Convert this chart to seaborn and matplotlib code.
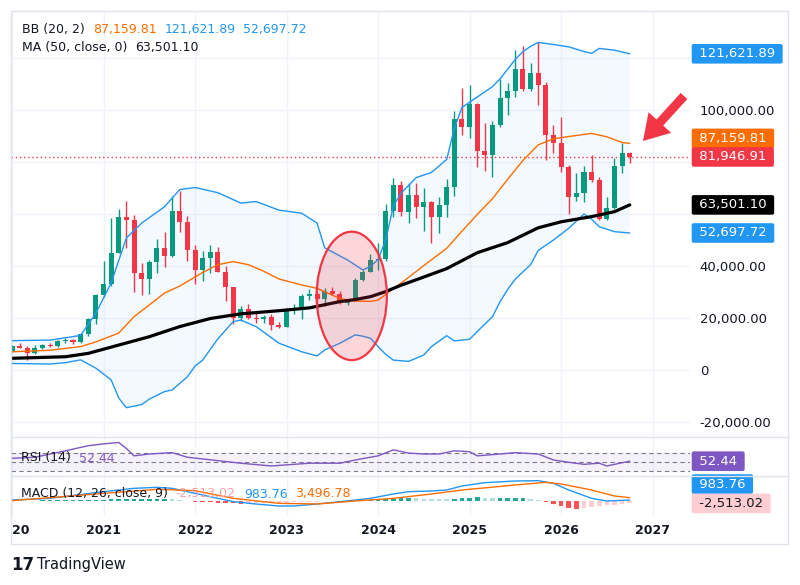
import numpy as np
import pandas as pd
import seaborn as sns
import matplotlib.pyplot as plt
from matplotlib.patches import Ellipse, Rectangle
from matplotlib.lines import Line2D
from matplotlib.transforms import blended_transform_factory

# monthly candles, index 0 = Jan 2020
opens = [7200, 9350, 8600, 6430, 8630, 9450, 9140, 11340, 11650, 10780, 13800, 19700,
         28990, 33100, 45140, 58800, 57750, 37300, 35040, 41460, 47100, 43790, 61300, 56950,
         46200, 38470, 43160, 45510, 37630, 31790, 19940, 23300, 20050, 19430, 20490, 17170,
         16540, 23130, 23150, 28480, 29250, 27220, 30470, 29230, 25940, 26960, 34640, 37720,
         42280, 42580, 61130, 71330, 60640, 67490, 62670, 64630, 58970, 63330, 70200, 96400,
         93430, 102400, 84350, 82550, 94200, 104600, 107150, 115760, 108250, 114050, 109600, 90400,
         87200, 78200, 66700, 67900, 76000, 73100, 58100, 62400, 78500, 83300]
highs = [9580, 10500, 9190, 9460, 10070, 10380, 11450, 12470, 12090, 14100, 19900, 29300,
         41950, 58350, 61780, 64850, 59500, 41300, 42300, 50500, 52900, 67000, 69000, 59100,
         47990, 45800, 48200, 47450, 40000, 31980, 24670, 25200, 22800, 20990, 21450, 18400,
         23950, 25250, 29200, 31000, 29850, 31400, 31800, 30200, 27500, 35200, 38450, 44700,
         48970, 64000, 73800, 72800, 71950, 71980, 70000, 65100, 66500, 73600, 99600, 108300,
         109600, 102750, 95000, 95700, 111900, 110500, 123200, 124450, 117900, 126200, 110600, 94200,
         97400, 78800, 75600, 78500, 82700, 74400, 66700, 81400, 87200, 83800]
lows = [6850, 8450, 3850, 6150, 8100, 8900, 8990, 10520, 9850, 10380, 13200, 17600,
        28130, 32300, 45000, 47000, 30000, 28800, 29300, 37300, 39600, 43300, 53250, 42000,
        32900, 34300, 37200, 37700, 26700, 17600, 18800, 19550, 18150, 18200, 15500, 16300,
        16500, 21350, 19550, 26950, 25800, 24800, 28850, 25200, 24900, 26550, 34100, 37600,
        38550, 41880, 59000, 59200, 56550, 58400, 53500, 49000, 52550, 58900, 66800, 90500,
        89200, 78200, 76600, 74400, 93400, 98200, 105100, 107300, 107300, 102000, 80600, 83600,
        76300, 60000, 65000, 64600, 72500, 57700, 57700, 62000, 75700, 79700]
closes = [9350, 8600, 6430, 8630, 9450, 9140, 11340, 11650, 10780, 13800, 19700, 28990,
          33100, 45140, 58800, 57750, 37300, 35040, 41460, 47100, 43790, 61300, 56950, 46200,
          38470, 43160, 45510, 37630, 31790, 19940, 23300, 20050, 19430, 20490, 17170, 16540,
          23130, 23150, 28480, 29250, 27220, 30470, 29230, 25940, 26960, 34640, 37720, 42280,
          42580, 61130, 71330, 60640, 67490, 62670, 64630, 58970, 63330, 70200, 96400, 93430,
          102400, 84350, 82550, 94200, 104600, 107150, 115760, 108250, 114050, 109600, 90400, 87200,
          78200, 66700, 67900, 76000, 73100, 58100, 62400, 78500, 83300, 81946.91]

# Bollinger bands (20, 2) and MA 50, read at these month indexes
bb_up_idx = [0, 5, 9, 11, 13, 15, 17, 20, 22, 24, 27, 30, 32, 35, 38, 40, 41, 44, 46, 47, 48, 49,
             50, 51, 53, 55, 57, 58, 59, 61, 63, 64, 66, 67, 68, 69, 71, 73, 75, 76, 77, 79, 81]
bb_upper = [11300, 11500, 13300, 21900, 33500, 50800, 56500, 62800, 69400, 70200, 68200, 64200,
            64800, 61500, 60300, 56500, 47000, 42300, 38500, 39800, 42500, 50000, 63000, 68000,
            74000, 76000, 81000, 93000, 101000, 105000, 109000, 112000, 119500, 122500, 124500,
            126000, 125200, 124300, 122500, 121800, 123700, 123000, 121621.89]
bb_mid_idx = [0, 5, 9, 11, 14, 16, 18, 20, 22, 25, 27, 29, 31, 33, 35, 38, 40, 43, 45, 47, 48, 49,
              50, 51, 53, 55, 57, 59, 61, 63, 65, 67, 69, 71, 73, 76, 78, 80, 81]
bb_mid = [7000, 7600, 9000, 10800, 14200, 20500, 25000, 29600, 32300, 37500, 40500, 41700, 40500,
          38000, 35000, 32700, 31400, 27500, 26500, 26400, 26900, 29000, 31400, 33400, 37900, 42400,
          46800, 53400, 59800, 65900, 73400, 80600, 86600, 88900, 89800, 91000, 89700, 87500, 87159.81]
bb_low_idx = [0, 5, 7, 9, 11, 13, 14, 15, 17, 18, 20, 21, 23, 24, 25, 27, 29, 30, 32, 35, 38, 40,
              41, 43, 45, 46, 47, 48, 49, 50, 52, 54, 55, 57, 58, 60, 61, 63, 64, 65, 66, 68, 69,
              71, 73, 75, 76, 77, 79, 81]
bb_lower = [2500, 2300, 2800, 3900, 700, -3800, -10800, -14500, -13300, -11200, -8300, -7700,
            -2600, 1500, 3800, 12000, 18600, 19200, 16700, 10300, 7000, 5400, 7700, 10300, 13500,
            13000, 12200, 9000, 6000, 3800, 3300, 5800, 9000, 13200, 11200, 11800, 14800, 20500,
            26300, 31000, 35000, 40500, 46000, 50000, 54500, 60000, 58000, 55100, 53200, 52697.72]
ma_idx = [0, 7, 10, 14, 18, 22, 26, 30, 35, 39, 43, 45, 47, 49, 51, 53, 57, 61, 65, 69, 72, 76,
          79, 81]
ma50 = [4500, 5100, 6400, 9600, 12800, 16700, 19800, 21600, 22800, 23900, 26300, 27100, 28200,
        30150, 32600, 34700, 39000, 45100, 49000, 54700, 57000, 59000, 60900, 63501.10]

# RSI (14)
rsi_idx = [0, 3, 7, 10, 12, 14, 15, 16, 18, 21, 23, 27, 30, 34, 39, 43, 45, 48, 50, 52, 54, 56,
           58, 60, 61, 64, 66, 69, 71, 73, 75, 77, 78, 79, 81]
rsi = [58.7, 61, 75, 86, 90, 93, 80, 64, 68, 71, 61, 53.6, 48, 42, 48, 48, 55, 64, 77, 70, 68, 68,
       75, 73, 64, 68, 71, 68, 55, 50, 45.6, 48, 42, 45.6, 52.44]

# MACD (12, 26, close, 9)
macd_idx = [0, 5, 12, 16, 19, 21, 24, 27, 29, 32, 35, 37, 40, 43, 45, 47, 50, 52, 55, 57, 59, 62,
            66, 69, 71, 73, 76, 78, 81]
macd = [1050, 2800, 9800, 13300, 14350, 13300, 8000, 2800, -700, -3150, -5250, -5250, -3150, -700,
        1050, 2800, 7350, 9800, 10500, 11550, 15750, 19250, 21000, 21350, 18550, 11550, 2800, 0,
        983.76]
sig_idx = [0, 12, 19, 24, 29, 35, 40, 45, 50, 55, 59, 66, 70, 72, 76, 79, 81]
signal = [350, 8000, 12250, 10850, 2800, -2450, -3150, 0, 2800, 7350, 11550, 16800, 19600, 17850,
          11550, 5250, 3496.78]
hist = [200, 300, 400, 500, 600, 700, 800, 900, 1000, 1100, 1200, 1300, 1450, 1600, 1750, 1900,
        2000, 2100, 2200, 2300, 2400, 1700, 800, -300, -700, -1100, -1500, -1900, -2300, -2600,
        -2800, -2600, -2400, -2200, -2000, -1800, -1600, -1400, -1100, -900, -700, -500, -300,
        -100, 200, 500, 800, 1200, 1600, 2000, 2400, 2800, 3100, 2800, 2500, 2200, 1900, 1700,
        2300, 2900, 3400, 3800, 3300, 2700, 2900, 3100, 3300, 3500, 2500, 1200, -1500, -3500,
        -5500, -7200, -8500, -7500, -6400, -5400, -4500, -3700, -3000, -2513.02]

years = [2020, 2021, 2022, 2023, 2024, 2025, 2026, 2027]

UP = '#089981'
DOWN = '#F23645'
BLUE = '#2196F3'
ORANGE = '#FF6D00'
PURPLE = '#7E57C2'
TEXT = '#131722'
GRID = '#F0F3FA'
FRAME = '#E0E3EB'
W, H = 800, 585


def rect(x0, y0, x1, y1):
    return [x0 / W, 1 - y1 / H, (x1 - x0) / W, (y1 - y0) / H]


def tag(ax, y, text, fc, tc='white', dy=0):
    tr = blended_transform_factory(ax.transAxes, ax.transData)
    ax.annotate(' ' + text + ' ', xy=(1, y), xycoords=tr, xytext=(5, dy), textcoords='offset pixels',
                ha='left', va='center', fontsize=9.5, color=tc, annotation_clip=False, zorder=10,
                bbox=dict(boxstyle='round,pad=0.25,rounding_size=0.15', fc=fc, ec='none'))


def text_row(fig, x, y, parts, size=9):
    r = fig.canvas.get_renderer()
    for s, col in parts:
        t = fig.text(x / W, 1 - y / H, s, color=col, fontsize=size, va='center', ha='left', zorder=10)
        x += t.get_window_extent(r).width + 8


def main():
    sns.set_theme(style='white')
    plt.rcParams['font.family'] = ['DejaVu Sans']

    df = pd.DataFrame({'open': opens, 'high': highs, 'low': lows, 'close': closes})
    months = np.arange(len(df))
    year_pos = [12 * i for i in range(len(years))]

    fig = plt.figure(figsize=(W / 100, H / 100), dpi=100)
    ax = fig.add_axes(rect(11, 11, 690, 437))
    ax_rsi = fig.add_axes(rect(11, 437, 690, 476), sharex=ax)
    ax_macd = fig.add_axes(rect(11, 476, 690, 516), sharex=ax)
    ax_date = fig.add_axes(rect(11, 516, 690, 544), sharex=ax)

    for a in (ax, ax_rsi, ax_macd, ax_date):
        for s in a.spines.values():
            s.set_visible(False)
        a.set_facecolor('none')
        a.set_xticks(year_pos)
        a.tick_params(length=0, labelbottom=False)
        a.grid(True, axis='x', color=GRID, lw=1)
    ax.set_xlim(-0.13, 88.9)

    # --- main pane ---
    ax.set_ylim(-25770, 138080)
    yt = list(range(-20000, 140000, 20000))
    ax.set_yticks(yt)
    labels = []
    for v in yt:
        if v == 0:
            labels.append('0')
        elif v in (60000, 80000, 120000):
            labels.append('')  # hidden behind the value tags
        else:
            labels.append('{:,.2f}'.format(v))
    ax.yaxis.tick_right()
    ax.set_yticklabels(labels)
    ax.tick_params(axis='y', length=0, pad=7, labelsize=9.5, labelcolor=TEXT)
    ax.grid(True, axis='y', color=GRID, lw=1)

    ax.fill(np.r_[bb_up_idx, bb_low_idx[::-1]], np.r_[bb_upper, bb_lower[::-1]],
            color=BLUE, alpha=0.05, lw=0, zorder=1)

    cols = np.where(df['close'] >= df['open'], UP, DOWN)
    ax.vlines(months, df['low'], df['high'], colors=cols, lw=1, zorder=3)
    body = np.maximum((df['close'] - df['open']).abs(), 350)
    ax.bar(months, body, bottom=np.minimum(df['open'], df['close']), width=0.66,
           color=cols, lw=0, zorder=4)

    ax.axhline(closes[-1], color=DOWN, ls=(0, (1, 2)), lw=1, zorder=2)

    sns.lineplot(x=bb_up_idx, y=bb_upper, ax=ax, color=BLUE, lw=1, zorder=5)
    sns.lineplot(x=bb_low_idx, y=bb_lower, ax=ax, color=BLUE, lw=1, zorder=5)
    sns.lineplot(x=bb_mid_idx, y=bb_mid, ax=ax, color=ORANGE, lw=1, zorder=5)
    sns.lineplot(x=ma_idx, y=ma50, ax=ax, color='black', lw=2.3, zorder=5)

    ax.add_patch(Ellipse((44.55, 28500), 9.2, 49400, fc=(0.95, 0.21, 0.27, 0.2),
                         ec=DOWN, lw=1.6, zorder=6))

    ax.annotate('', xy=(643, H - 141), xycoords='figure pixels',
                xytext=(684, H - 96), textcoords='figure pixels',
                arrowprops=dict(arrowstyle='simple,head_length=1.8,head_width=2.2,tail_width=0.65',
                                mutation_scale=10, color=DOWN, lw=0, shrinkA=0, shrinkB=0))

    tag(ax, bb_upper[-1], '{:,.2f}'.format(bb_upper[-1]), BLUE)
    tag(ax, bb_mid[-1], '{:,.2f}'.format(bb_mid[-1]), ORANGE, dy=5)
    tag(ax, closes[-1], '{:,.2f}'.format(closes[-1]), DOWN)
    tag(ax, ma50[-1], '{:,.2f}'.format(ma50[-1]), 'black')
    tag(ax, bb_lower[-1], '{:,.2f}'.format(bb_lower[-1]), BLUE)

    # --- RSI pane ---
    ax_rsi.set_ylim(20.2, 105)
    ax_rsi.set_yticks([])
    ax_rsi.axhspan(30, 70, color=PURPLE, alpha=0.08, lw=0)
    for lv in (70, 50, 30):
        ax_rsi.axhline(lv, color='#787B86', ls=(0, (4, 3)), lw=0.8)
    sns.lineplot(x=rsi_idx, y=rsi, ax=ax_rsi, color=PURPLE, lw=1)
    tag(ax_rsi, rsi[-1], '{:.2f}'.format(rsi[-1]), PURPLE)

    # --- MACD pane ---
    ax_macd.set_ylim(-15750, 26250)
    ax_macd.set_yticks([])
    hist_cols = []
    prev = 0
    for v in hist:
        if v >= 0:
            hist_cols.append('#26A69A' if v > prev else '#B2DFDB')
        else:
            hist_cols.append('#FF5252' if v < prev else '#FFCDD2')
        prev = v
    ax_macd.bar(months, hist, width=0.6, color=hist_cols, lw=0)
    sns.lineplot(x=macd_idx, y=macd, ax=ax_macd, color=BLUE, lw=1)
    sns.lineplot(x=sig_idx, y=signal, ax=ax_macd, color=ORANGE, lw=1)
    tag(ax_macd, macd[-1], '{:,.2f}'.format(macd[-1]), BLUE, dy=16)
    tag(ax_macd, hist[-1], '{:,.2f}'.format(hist[-1]), '#FFCDD2', tc=TEXT)

    # --- date axis ---
    ax_date.set_ylim(0, 1)
    ax_date.set_yticks([])
    ax_date.grid(False)
    # first year label is cut by the pane edge, only its last two digits show
    ax_date.text(year_pos[0], 0.5, str(years[0])[2:], ha='left', va='center', fontsize=9,
                 fontweight='bold', color=TEXT)
    for xp, yr in zip(year_pos[1:], years[1:]):
        ax_date.text(xp, 0.5, str(yr), ha='center', va='center', fontsize=9,
                     fontweight='bold', color=TEXT)

    # frame and pane separators
    fig.add_artist(Rectangle((11 / W, 1 - 544 / H), 777 / W, 533 / H, transform=fig.transFigure,
                             fill=False, ec=FRAME, lw=1))
    for yy in (437, 476):
        fig.add_artist(Line2D([11 / W, 788 / W], [1 - yy / H] * 2, transform=fig.transFigure,
                              color=FRAME, lw=1))

    # legends
    text_row(fig, 22, 29, [('BB (20, 2)', TEXT), ('{:,.2f}'.format(bb_mid[-1]), ORANGE),
                           ('{:,.2f}'.format(bb_upper[-1]), BLUE),
                           ('{:,.2f}'.format(bb_lower[-1]), BLUE)])
    text_row(fig, 22, 48, [('MA (50, close, 0)', TEXT), ('{:,.2f}'.format(ma50[-1]), TEXT)])
    text_row(fig, 21, 458, [('RSI (14)', TEXT), ('{:.2f}'.format(rsi[-1]), PURPLE)])
    text_row(fig, 21, 494, [('MACD (12, 26, close, 9)', TEXT), ('{:,.2f}'.format(hist[-1]), '#F5A3AB'),
                            ('{:,.2f}'.format(macd[-1]), BLUE), ('{:,.2f}'.format(signal[-1]), ORANGE)])

    # logo
    fig.text(11 / W, 1 - 565 / H, '17', fontsize=12, fontweight='heavy', color=TEXT, va='center')
    fig.text(37 / W, 1 - 565 / H, 'TradingView', fontsize=10.5, color=TEXT, va='center')

    fig.savefig('out.png', dpi=100, facecolor='white')


if __name__ == '__main__':
    main()
